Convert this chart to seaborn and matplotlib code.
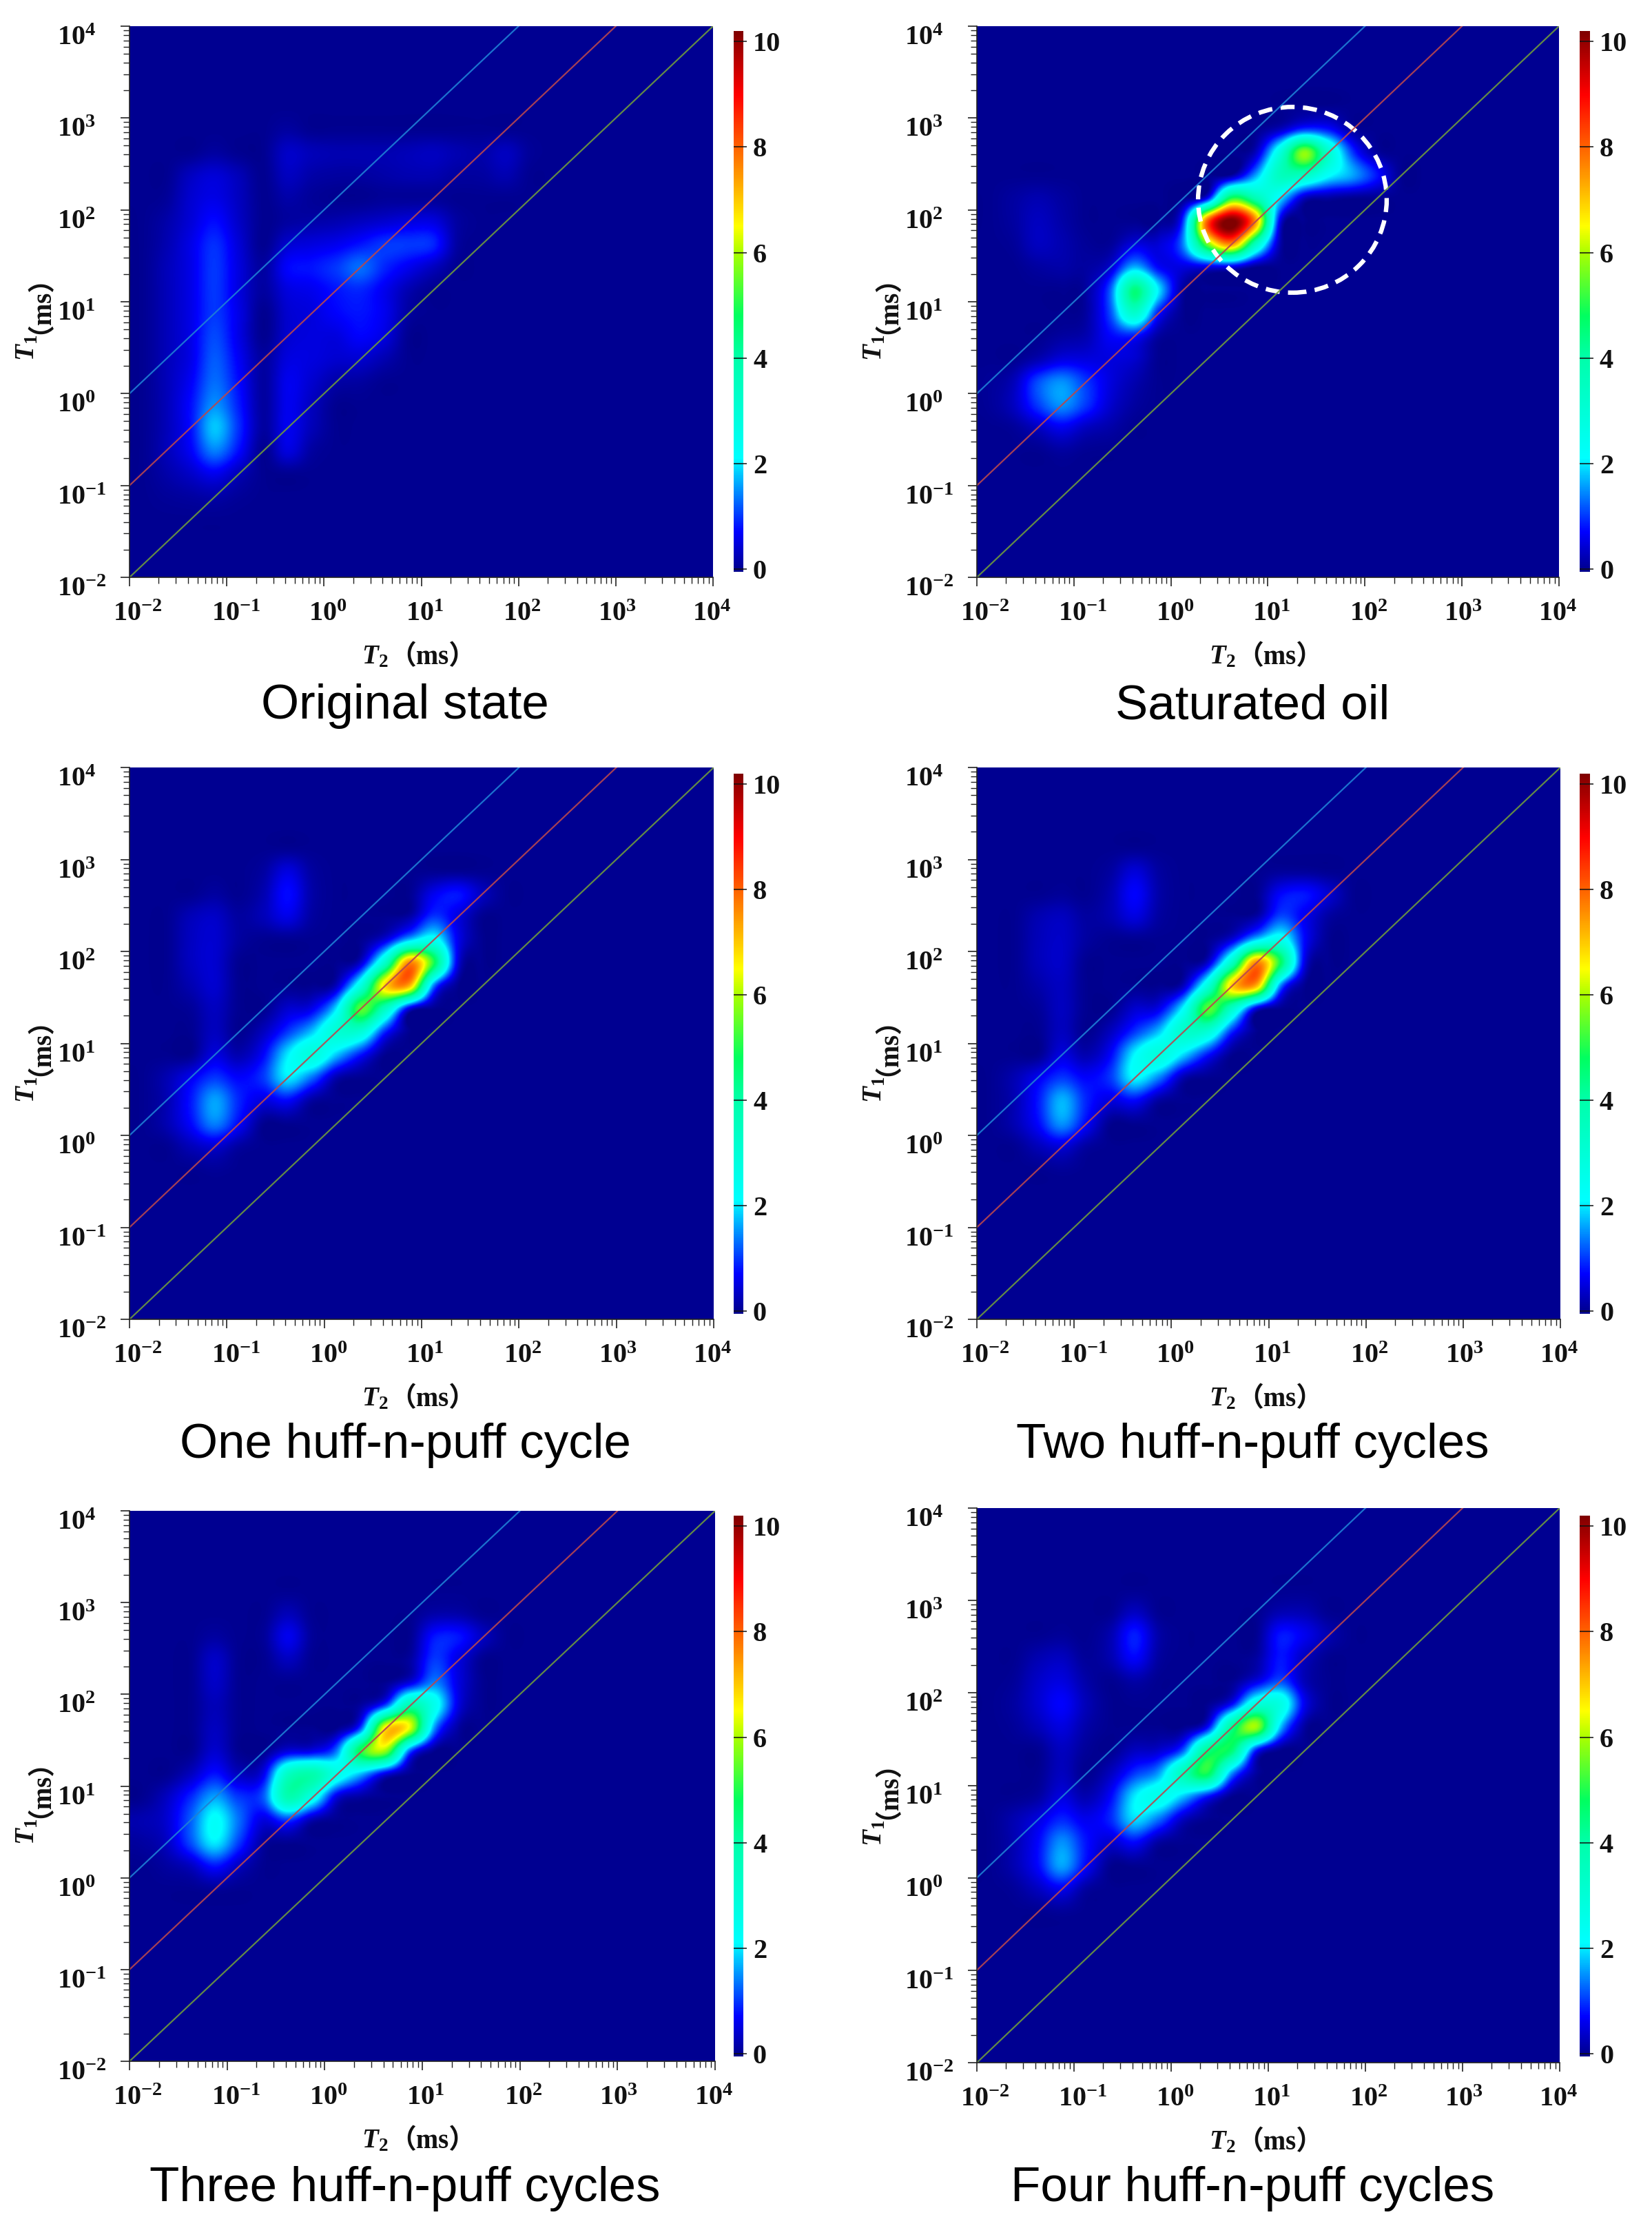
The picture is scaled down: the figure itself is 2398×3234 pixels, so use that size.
import numpy as np
import seaborn as sns
import matplotlib.pyplot as plt
from matplotlib.colors import LinearSegmentedColormap
from matplotlib.patches import Ellipse
from matplotlib.transforms import ScaledTranslation

# amplitude, 0.25 decade cells
# rows run from log10(T1)=3.375 down to -1.375, columns from log10(T2)=-1.875 up to 2.375
original_state = [
    [0, 0, 0, 0, 0, 0, 0, 0, 0, 0, 0, 0, 0, 0, 0, 0, 0, 0],
    [0, 0, 0, 0, 0, 0, 0, 0, 0, 0, 0, 0, 0, 0, 0, 0, 0, 0],
    [0, 0, 0, 0, 0, 0, .1, 0, 0, 0, 0, 0, 0, 0, 0, 0, 0, 0],
    [0, 0, 0, .1, 0, 0, .35, .25, .2, .2, .2, .25, .3, .2, .15, .3, .05, 0],
    [0, 0, .3, .45, .25, 0, .3, .15, .1, .1, .15, .2, .2, .1, .1, .2, 0, 0],
    [0, .05, .4, .55, .3, 0, .15, .05, 0, 0, .05, .05, .05, 0, 0, 0, 0, 0],
    [0, .15, .45, .75, .35, 0, .1, .15, .2, .3, .4, .5, .5, .1, 0, 0, 0, 0],
    [0, .2, .55, .95, .45, 0, .4, .5, .6, .8, 1.0, 1.0, .9, .1, 0, 0, 0, 0],
    [0, .25, .55, 1.0, .5, .1, .7, .8, 1.0, 1.3, .9, .6, .3, 0, 0, 0, 0, 0],
    [0, .25, .55, 1.0, .5, .1, .5, .6, .8, .9, .6, .2, 0, 0, 0, 0, 0, 0],
    [0, .25, .55, 1.0, .55, 0, .4, .5, .7, .8, .6, .1, 0, 0, 0, 0, 0, 0],
    [0, .25, .55, 1.1, .55, 0, .4, .5, .5, .7, .5, 0, 0, 0, 0, 0, 0, 0],
    [0, .25, .55, 1.2, .65, .1, .5, .5, .4, .4, .2, 0, 0, 0, 0, 0, 0, 0],
    [0, .25, .65, 1.3, .75, .1, .6, .4, .15, .1, 0, 0, 0, 0, 0, 0, 0, 0],
    [0, .25, .75, 1.5, .85, .1, .6, .3, 0, 0, 0, 0, 0, 0, 0, 0, 0, 0],
    [0, .25, .75, 1.8, .95, .1, .6, .25, 0, 0, 0, 0, 0, 0, 0, 0, 0, 0],
    [0, .25, .65, 1.4, .75, 0, .5, .1, 0, 0, 0, 0, 0, 0, 0, 0, 0, 0],
    [0, .15, .35, .6, .25, 0, 0, 0, 0, 0, 0, 0, 0, 0, 0, 0, 0, 0],
    [0, .05, .1, .15, .05, 0, 0, 0, 0, 0, 0, 0, 0, 0, 0, 0, 0, 0],
    [0, 0, 0, 0, 0, 0, 0, 0, 0, 0, 0, 0, 0, 0, 0, 0, 0, 0],
]
saturated_oil = [
    [0, 0, 0, 0, 0, 0, 0, 0, 0, 0, 0, 0, 0, 0, 0, 0, 0, 0],
    [0, 0, 0, 0, 0, 0, 0, 0, 0, 0, 0, 0, 0, 0, 0, 0, 0, 0],
    [0, 0, 0, 0, 0, 0, 0, 0, 0, 0, 0, 0, .3, 1.0, .8, .1, 0, 0],
    [0, 0, 0, 0, 0, 0, 0, 0, 0, 0, 0, .3, 2.8, 5.8, 3.2, 1.0, .1, 0],
    [0, 0, 0, 0, 0, 0, 0, 0, 0, 0, .1, 1.6, 3.5, 3.4, 2.2, 1.6, .8, 0],
    [0, .1, .2, .1, 0, 0, 0, 0, 0, .7, 5.0, 3.8, 2.0, .3, .1, 0, 0, 0],
    [0, .1, .3, .15, 0, 0, 0, 0, 1.0, 8.0, 10.3, 7.5, .6, 0, 0, 0, 0, 0],
    [0, .05, .3, .2, .05, .05, .5, .45, 1.4, 5.5, 7.5, 3.5, .2, 0, 0, 0, 0, 0],
    [0, 0, .1, .15, .1, .4, 1.7, .7, .5, .5, .5, 0, 0, 0, 0, 0, 0, 0],
    [0, 0, 0, 0, .1, 1.2, 4.5, 2.0, .1, 0, 0, 0, 0, 0, 0, 0, 0, 0],
    [0, 0, 0, 0, .1, 1.1, 3.2, .8, 0, 0, 0, 0, 0, 0, 0, 0, 0, 0],
    [0, 0, 0, .1, .2, .7, .8, .1, 0, 0, 0, 0, 0, 0, 0, 0, 0, 0],
    [0, 0, .2, .5, .5, .5, .4, 0, 0, 0, 0, 0, 0, 0, 0, 0, 0, 0],
    [.05, .25, 1.1, 1.5, 1.0, .5, .2, 0, 0, 0, 0, 0, 0, 0, 0, 0, 0, 0],
    [.05, .3, 1.0, 1.5, 1.0, .4, .1, 0, 0, 0, 0, 0, 0, 0, 0, 0, 0, 0],
    [0, .05, .3, .6, .3, .15, 0, 0, 0, 0, 0, 0, 0, 0, 0, 0, 0, 0],
    [0, 0, 0, .1, .02, 0, 0, 0, 0, 0, 0, 0, 0, 0, 0, 0, 0, 0],
    [0, 0, 0, 0, 0, 0, 0, 0, 0, 0, 0, 0, 0, 0, 0, 0, 0, 0],
    [0, 0, 0, 0, 0, 0, 0, 0, 0, 0, 0, 0, 0, 0, 0, 0, 0, 0],
    [0, 0, 0, 0, 0, 0, 0, 0, 0, 0, 0, 0, 0, 0, 0, 0, 0, 0],
]
one_cycle = [
    [0, 0, 0, 0, 0, 0, 0, 0, 0, 0, 0, 0, 0, 0, 0, 0, 0, 0],
    [0, 0, 0, 0, 0, 0, 0, 0, 0, 0, 0, 0, 0, 0, 0, 0, 0, 0],
    [0, 0, 0, 0, 0, .1, .5, .1, 0, 0, 0, 0, 0, 0, 0, 0, 0, 0],
    [0, 0, 0, .1, 0, .2, .75, .15, 0, 0, 0, 0, .6, .8, .3, 0, 0, 0],
    [0, 0, .25, .35, .1, .25, .55, .1, 0, 0, 0, .15, 1.0, .5, 0, 0, 0, 0],
    [0, 0, .3, .4, .1, 0, 0, 0, 0, 0, .5, 1.8, 2.4, .6, 0, 0, 0, 0],
    [0, 0, .3, .4, 0, 0, 0, 0, 0, .4, 3.3, 7.6, 5.0, .5, 0, 0, 0, 0],
    [0, 0, .2, .4, 0, 0, 0, 0, .3, 2.8, 6.8, 7.2, 1.4, 0, 0, 0, 0, 0],
    [0, 0, .05, .3, 0, 0, .4, .6, 2.0, 5.4, 3.5, .5, 0, 0, 0, 0, 0, 0],
    [0, 0, 0, .3, 0, .3, 1.0, 1.8, 3.0, 3.0, .9, 0, 0, 0, 0, 0, 0, 0],
    [0, 0, 0, .5, .2, .7, 2.0, 2.8, 1.8, .8, 0, 0, 0, 0, 0, 0, 0, 0],
    [0, .2, .6, 1.0, .7, 1.0, 2.0, 1.3, .2, 0, 0, 0, 0, 0, 0, 0, 0, 0],
    [0, .2, .8, 1.6, .9, .5, .7, .1, 0, 0, 0, 0, 0, 0, 0, 0, 0, 0],
    [0, .2, .7, 1.4, .7, 0, 0, 0, 0, 0, 0, 0, 0, 0, 0, 0, 0, 0],
    [0, 0, .25, .4, .1, 0, 0, 0, 0, 0, 0, 0, 0, 0, 0, 0, 0, 0],
    [0, 0, 0, .05, 0, 0, 0, 0, 0, 0, 0, 0, 0, 0, 0, 0, 0, 0],
    [0, 0, 0, 0, 0, 0, 0, 0, 0, 0, 0, 0, 0, 0, 0, 0, 0, 0],
    [0, 0, 0, 0, 0, 0, 0, 0, 0, 0, 0, 0, 0, 0, 0, 0, 0, 0],
    [0, 0, 0, 0, 0, 0, 0, 0, 0, 0, 0, 0, 0, 0, 0, 0, 0, 0],
    [0, 0, 0, 0, 0, 0, 0, 0, 0, 0, 0, 0, 0, 0, 0, 0, 0, 0],
]
two_cycles = [
    [0, 0, 0, 0, 0, 0, 0, 0, 0, 0, 0, 0, 0, 0, 0, 0, 0, 0],
    [0, 0, 0, 0, 0, 0, 0, 0, 0, 0, 0, 0, 0, 0, 0, 0, 0, 0],
    [0, 0, 0, 0, 0, .1, .45, .1, 0, 0, 0, 0, .05, .05, 0, 0, 0, 0],
    [0, 0, 0, .05, 0, .2, .7, .15, 0, 0, 0, 0, .7, .8, .4, 0, 0, 0],
    [0, 0, .2, .3, .1, .2, .5, .1, 0, 0, 0, .15, 1.1, .6, .1, 0, 0, 0],
    [0, 0, .25, .35, .1, 0, 0, 0, 0, 0, .5, 1.9, 2.5, .7, 0, 0, 0, 0],
    [0, 0, .25, .35, 0, 0, 0, 0, 0, .4, 3.4, 7.6, 4.8, .5, 0, 0, 0, 0],
    [0, 0, .15, .3, 0, 0, 0, 0, .3, 2.9, 6.9, 7.2, 1.4, 0, 0, 0, 0, 0],
    [0, 0, .05, .3, 0, 0, .4, .6, 2.2, 5.4, 3.3, .5, 0, 0, 0, 0, 0, 0],
    [0, 0, 0, .3, 0, .3, 1.0, 1.8, 3.2, 3.0, .9, 0, 0, 0, 0, 0, 0, 0],
    [0, 0, 0, .5, .2, .7, 2.1, 2.8, 1.9, .8, 0, 0, 0, 0, 0, 0, 0, 0],
    [0, .2, .6, 1.0, .7, 1.0, 2.1, 1.4, .2, 0, 0, 0, 0, 0, 0, 0, 0, 0],
    [0, .2, .8, 1.7, .9, .5, .7, .1, 0, 0, 0, 0, 0, 0, 0, 0, 0, 0],
    [0, .2, .7, 1.5, .7, 0, 0, 0, 0, 0, 0, 0, 0, 0, 0, 0, 0, 0],
    [0, 0, .25, .45, .1, 0, 0, 0, 0, 0, 0, 0, 0, 0, 0, 0, 0, 0],
    [0, 0, 0, .05, 0, 0, 0, 0, 0, 0, 0, 0, 0, 0, 0, 0, 0, 0],
    [0, 0, 0, 0, 0, 0, 0, 0, 0, 0, 0, 0, 0, 0, 0, 0, 0, 0],
    [0, 0, 0, 0, 0, 0, 0, 0, 0, 0, 0, 0, 0, 0, 0, 0, 0, 0],
    [0, 0, 0, 0, 0, 0, 0, 0, 0, 0, 0, 0, 0, 0, 0, 0, 0, 0],
    [0, 0, 0, 0, 0, 0, 0, 0, 0, 0, 0, 0, 0, 0, 0, 0, 0, 0],
]
three_cycles = [
    [0, 0, 0, 0, 0, 0, 0, 0, 0, 0, 0, 0, 0, 0, 0, 0, 0, 0],
    [0, 0, 0, 0, 0, 0, 0, 0, 0, 0, 0, 0, 0, 0, 0, 0, 0, 0],
    [0, 0, 0, 0, 0, 0, .25, 0, 0, 0, 0, 0, .15, .15, 0, 0, 0, 0],
    [0, 0, 0, .1, 0, .05, .6, .05, 0, 0, 0, 0, .8, .8, .3, 0, 0, 0],
    [0, 0, 0, .35, 0, 0, .3, 0, 0, 0, 0, .1, 1.0, .5, 0, 0, 0, 0],
    [0, 0, 0, .35, 0, 0, 0, 0, 0, 0, 0, .5, 1.4, .5, 0, 0, 0, 0],
    [0, 0, 0, .25, 0, 0, 0, 0, 0, .1, 1.1, 3.8, 2.5, .5, 0, 0, 0, 0],
    [0, 0, 0, .3, 0, 0, 0, 0, 0, 1.2, 6.7, 6.3, 1.5, .1, 0, 0, 0, 0],
    [0, 0, 0, .4, 0, 0, .5, .6, 1.4, 5.0, 5.8, 1.2, 0, 0, 0, 0, 0, 0],
    [0, 0, .3, .8, .3, .6, 3.4, 3.9, 2.6, 1.7, .5, 0, 0, 0, 0, 0, 0, 0],
    [0, .3, .9, 1.6, 1.0, 1.2, 3.8, 2.6, .5, .1, 0, 0, 0, 0, 0, 0, 0, 0],
    [.2, .4, 1.2, 2.2, 1.3, .5, 1.0, .2, 0, 0, 0, 0, 0, 0, 0, 0, 0, 0],
    [.1, .3, 1.1, 2.0, 1.0, .1, 0, 0, 0, 0, 0, 0, 0, 0, 0, 0, 0, 0],
    [0, .1, .3, .8, .3, 0, 0, 0, 0, 0, 0, 0, 0, 0, 0, 0, 0, 0],
    [0, 0, 0, .05, 0, 0, 0, 0, 0, 0, 0, 0, 0, 0, 0, 0, 0, 0],
    [0, 0, 0, 0, 0, 0, 0, 0, 0, 0, 0, 0, 0, 0, 0, 0, 0, 0],
    [0, 0, 0, 0, 0, 0, 0, 0, 0, 0, 0, 0, 0, 0, 0, 0, 0, 0],
    [0, 0, 0, 0, 0, 0, 0, 0, 0, 0, 0, 0, 0, 0, 0, 0, 0, 0],
    [0, 0, 0, 0, 0, 0, 0, 0, 0, 0, 0, 0, 0, 0, 0, 0, 0, 0],
    [0, 0, 0, 0, 0, 0, 0, 0, 0, 0, 0, 0, 0, 0, 0, 0, 0, 0],
]
four_cycles = [
    [0, 0, 0, 0, 0, 0, 0, 0, 0, 0, 0, 0, 0, 0, 0, 0, 0, 0],
    [0, 0, 0, 0, 0, 0, 0, 0, 0, 0, 0, 0, 0, 0, 0, 0, 0, 0],
    [0, 0, 0, 0, 0, 0, .3, 0, 0, 0, 0, 0, .2, .2, 0, 0, 0, 0],
    [0, 0, 0, .05, 0, .2, .85, .15, 0, 0, 0, 0, .8, .6, .2, 0, 0, 0],
    [0, 0, .2, .3, .05, .2, .7, .1, 0, 0, 0, .1, .8, .3, 0, 0, 0, 0],
    [0, .05, .35, .5, .15, 0, .15, 0, 0, 0, 0, .5, 1.1, .25, 0, 0, 0, 0],
    [0, .1, .4, .7, .25, 0, 0, 0, 0, 0, .7, 2.8, 2.7, .6, 0, 0, 0, 0],
    [0, .05, .25, .5, .15, 0, 0, 0, 0, .7, 4.2, 5.9, 1.8, .1, 0, 0, 0, 0],
    [0, 0, 0, .3, .05, 0, .3, .4, 1.2, 4.3, 4.6, .9, 0, 0, 0, 0, 0, 0],
    [0, 0, 0, .3, 0, .3, 1.0, 1.6, 3.6, 4.9, 1.5, .1, 0, 0, 0, 0, 0, 0],
    [0, 0, .1, .5, .2, .7, 2.0, 2.5, 1.8, .8, 0, 0, 0, 0, 0, 0, 0, 0],
    [0, .2, .5, .9, .6, .9, 1.9, 1.3, .3, 0, 0, 0, 0, 0, 0, 0, 0, 0],
    [0, .2, .7, 1.5, .8, .4, .7, .1, 0, 0, 0, 0, 0, 0, 0, 0, 0, 0],
    [0, .2, .7, 1.6, .7, 0, 0, 0, 0, 0, 0, 0, 0, 0, 0, 0, 0, 0],
    [0, .05, .3, .6, .1, 0, 0, 0, 0, 0, 0, 0, 0, 0, 0, 0, 0, 0],
    [0, 0, 0, .05, 0, 0, 0, 0, 0, 0, 0, 0, 0, 0, 0, 0, 0, 0],
    [0, 0, 0, 0, 0, 0, 0, 0, 0, 0, 0, 0, 0, 0, 0, 0, 0, 0],
    [0, 0, 0, 0, 0, 0, 0, 0, 0, 0, 0, 0, 0, 0, 0, 0, 0, 0],
    [0, 0, 0, 0, 0, 0, 0, 0, 0, 0, 0, 0, 0, 0, 0, 0, 0, 0],
    [0, 0, 0, 0, 0, 0, 0, 0, 0, 0, 0, 0, 0, 0, 0, 0, 0, 0],
]
maps = [original_state, saturated_oil, one_cycle, two_cycles, three_cycles, four_cycles]
titles = ['Original state', 'Saturated oil', 'One huff-n-puff cycle', 'Two huff-n-puff cycles',
          'Three huff-n-puff cycles', 'Four huff-n-puff cycles']

t1_over_t2 = [100, 10, 1]
ratio_colors = ['#1f7fd6', '#b8474f', '#6f9a3e']
cbar_ticks = [0, 2, 4, 6, 8, 10]
axis_limits = [1e-2, 1e4]

# left, right, top, bottom of each map in pixels
W, H = 2398, 3234
boxes = [(188, 1035, 38, 838), (1418, 2263, 38, 838),
         (188, 1036, 1114, 1915), (1418, 2265, 1114, 1915),
         (188, 1038, 2193, 2992), (1418, 2264, 2189, 2994)]
# left, right, top, bottom of each colour bar
cbar_boxes = [(1065, 1079, 45, 830), (2293, 2308, 45, 830),
              (1065, 1079, 1123, 1907), (2293, 2308, 1123, 1907),
              (1065, 1079, 2200, 2985), (2293, 2308, 2200, 2985)]
title_y = [1025, 1025, 2098, 2098, 3177, 3177]
x_label_shift = [12, 13, 6, 5, 5, 2, -2]

sns.set_theme(style='white')
plt.rcParams['mathtext.fontset'] = 'custom'
plt.rcParams['mathtext.rm'] = 'Liberation Serif:bold'
plt.rcParams['mathtext.bf'] = 'Liberation Serif:bold'
plt.rcParams['mathtext.it'] = 'Liberation Serif:italic:bold'
plt.rcParams['mathtext.bfit'] = 'Liberation Serif:italic:bold'

color_nodes = [(-.05, '#00008b'), (.7, '#0000ff'), (1.4, '#0080ff'), (2.1, '#00ffff'), (4.0, '#00ffaa'),
               (4.8, '#00ff60'), (6.0, '#aaff00'), (6.5, '#ffff00'), (7.7, '#ff8000'), (9.0, '#ff0000'),
               (10.2, '#800000')]
vmin, vmax = color_nodes[0][0], color_nodes[-1][0]
cmap = LinearSegmentedColormap.from_list(
    'nmr', [((v - vmin) / (vmax - vmin), c) for v, c in color_nodes], N=512)
cmap.set_under('#00008b')

fig = plt.figure(figsize=(W / 100, H / 100), dpi=100)
serif = ['Liberation Serif', 'Noto Sans CJK SC']
px = 72 / 100


def frac_box(b):
    left, right, top, bottom = b
    return [left / W, 1 - bottom / H, (right - left) / W, (bottom - top) / H]


def place_label(x, y, text, rotation=0, size=26):
    fig.text(x / W, 1 - y / H, text, ha='center', va='center', rotation=rotation,
             fontsize=size, family=serif, fontweight='bold', color='#111111')


for i, values in enumerate(maps):
    grid = np.pad(np.array(values, dtype=float), ((2, 2), (0, 6)))
    box = boxes[i]
    ax = fig.add_axes(frac_box(box))
    cax = fig.add_axes(frac_box(cbar_boxes[i]))

    sns.heatmap(grid, ax=ax, cbar_ax=cax, cmap=cmap, vmin=vmin, vmax=vmax, xticklabels=False,
                yticklabels=False, cbar_kws={'ticks': cbar_ticks})
    # same cells, drawn smooth the way the instrument software shows them
    ax.imshow(grid, cmap=cmap, vmin=vmin, vmax=vmax, extent=(0, grid.shape[1], grid.shape[0], 0),
              interpolation='catrom', interpolation_stage='data', aspect='auto', zorder=3)
    ax.set_xlim(0, grid.shape[1])
    ax.set_ylim(grid.shape[0], 0)

    cax.tick_params(axis='y', which='both', direction='out', length=5 * px, width=1.1, color='#111111',
                    pad=9 * px, labelsize=29, right=True, left=False)
    cax.hlines(cbar_ticks, *cax.get_xlim(), color='#111111', lw=1.1)
    for lab in cax.get_yticklabels():
        lab.set_family('Liberation Serif')
        lab.set_fontweight('bold')
        lab.set_color('#111111')

    # log axes on top carry the ticks and the ratio lines
    ov = fig.add_axes(frac_box(box), facecolor='none')
    ov.set_xscale('log')
    ov.set_yscale('log')
    for ratio, col in zip(t1_over_t2, ratio_colors):
        ov.plot(axis_limits, [ratio * v for v in axis_limits], color=col, lw=1.6, alpha=.9)
    ov.set_xlim(axis_limits)
    ov.set_ylim(axis_limits)
    for axis in (ov.xaxis, ov.yaxis):
        axis.set_major_locator(plt.LogLocator(base=10, numticks=10))
        axis.set_minor_locator(plt.LogLocator(base=10, subs=np.arange(2, 10), numticks=10))
        axis.set_minor_formatter(plt.NullFormatter())
    ov.tick_params(which='major', direction='out', length=13 * px, width=1.2, color='#222222',
                   labelsize=29, left=True, bottom=True)
    ov.tick_params(which='minor', direction='out', length=9 * px, width=1.0, color='#222222',
                   left=True, bottom=True)
    ov.tick_params(axis='x', which='major', pad=22 * px)
    ov.tick_params(axis='y', which='major', pad=92 * px)
    for side in ('top', 'right'):
        ov.spines[side].set_visible(False)
    for side in ('left', 'bottom'):
        ov.spines[side].set_color('#222222')
        ov.spines[side].set_linewidth(1.2)

    y_shift = ScaledTranslation(0, -13 / 100, fig.dpi_scale_trans)
    fig.canvas.draw()
    # the locator also returns decades outside the limits, skip those
    x_labels = [lab for lab, loc in zip(ov.get_xticklabels(), ov.get_xticks())
                if axis_limits[0] <= loc <= axis_limits[1]]
    for lab, shift in zip(x_labels, x_label_shift):
        lab.set_family('Liberation Serif')
        lab.set_fontweight('bold')
        lab.set_color('#111111')
        lab.set_transform(lab.get_transform() + ScaledTranslation(shift / 100, 0, fig.dpi_scale_trans))
    for lab in ov.get_yticklabels():
        lab.set_family('Liberation Serif')
        lab.set_fontweight('bold')
        lab.set_color('#111111')
        lab.set_horizontalalignment('left')
        lab.set_transform(lab.get_transform() + y_shift)

    left, right, top, bottom = box
    place_label(left + 356, bottom + 116, r'$\mathbfit{T}_{\mathrm{2}}$', size=28)
    place_label(left + 440, bottom + 116, '（ms）', size=28)
    place_label(left - 148, bottom - 333, r'$\mathbfit{T}_{\mathrm{1}}$', rotation=90, size=28)
    place_label(left - 148, bottom - 416, '（ms）', rotation=90, size=28)
    fig.text((left + 400) / W, 1 - title_y[i] / H, titles[i], ha='center', va='center', fontsize=51,
             family='Liberation Sans', color='black')

    if i == 1:
        ov.add_patch(Ellipse((.542, .685), .324, .337, transform=ov.transAxes, fill=False, edgecolor='white',
                             lw=4.6, linestyle=(0, (3.2, 1.9)), clip_on=False))

fig.savefig('out.png', dpi=100)
